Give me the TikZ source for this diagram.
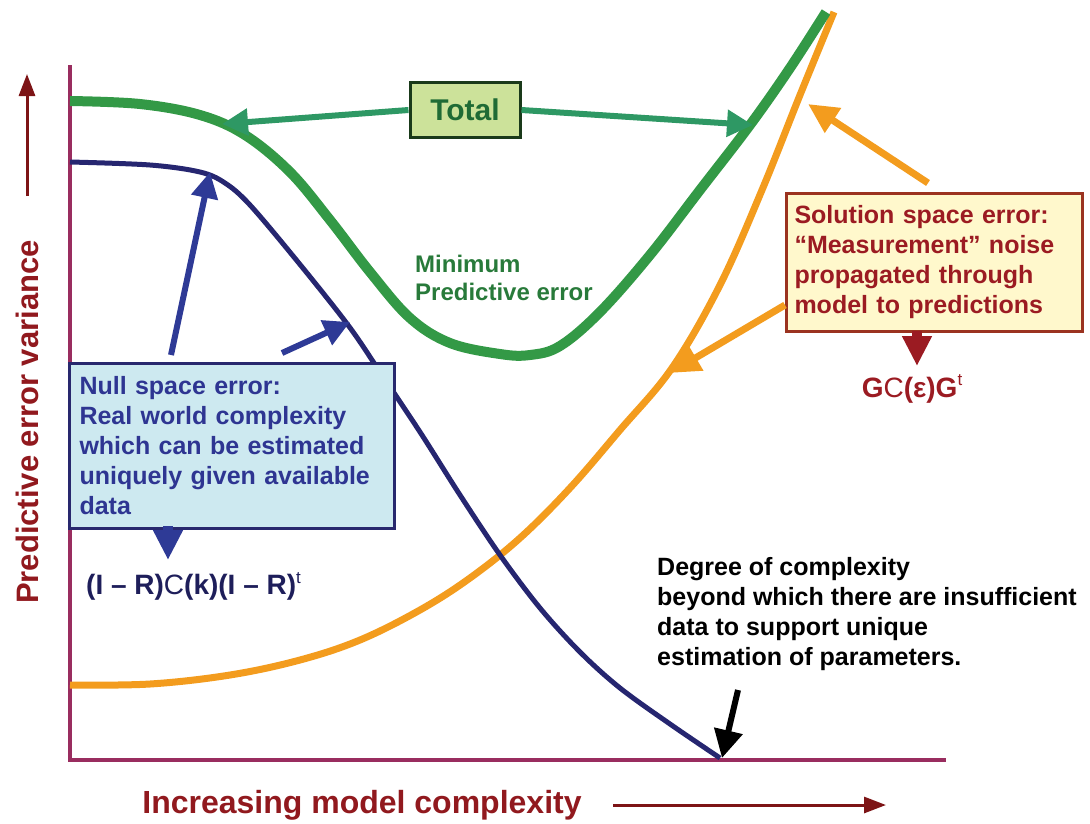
\documentclass[tikz,border=0pt]{standalone}
\usepackage{fontspec}
\setmainfont{Liberation Sans}
\usetikzlibrary{arrows.meta}
\definecolor{axisc}{RGB}{153,45,95}
\definecolor{labc}{RGB}{145,25,30}
\definecolor{labarr}{RGB}{125,20,22}
\definecolor{greenc}{RGB}{51,153,70}
\definecolor{greenarr}{RGB}{46,152,100}
\definecolor{totfill}{RGB}{204,226,154}
\definecolor{totdraw}{RGB}{26,58,26}
\definecolor{tottext}{RGB}{31,107,53}
\definecolor{mintext}{RGB}{40,122,58}
\definecolor{navyc}{RGB}{38,38,112}
\definecolor{bluearr}{RGB}{46,58,150}
\definecolor{bluefill}{RGB}{205,233,240}
\definecolor{bluedraw}{RGB}{40,40,110}
\definecolor{bluetext}{RGB}{46,53,146}
\definecolor{formblue}{RGB}{30,30,90}
\definecolor{orangec}{RGB}{243,156,30}
\definecolor{solfill}{RGB}{255,248,204}
\definecolor{soldraw}{RGB}{155,51,32}
\definecolor{soltext}{RGB}{155,27,34}
\tikzset{
  boxtext/.style={font=\fontsize{25}{30}\selectfont\bfseries, align=left},
  garrow/.style={draw=greenarr, line width=6pt, -{Triangle[length=26pt,width=26pt]}},
  oarrow/.style={draw=orangec, line width=7pt, -{Triangle[length=30pt,width=28pt]}},
  barrow/.style={draw=bluearr, line width=6pt, -{Triangle[length=26pt,width=26pt]}},
  darrow/.style={line width=10pt, -{Triangle[length=30pt,width=28pt]}},
  labarrow/.style={draw=labarr, line width=3pt, -{Triangle[length=22pt,width=16pt]}},
}
\begin{document}
\begin{tikzpicture}[x=1pt,y=-1pt]
\useasboundingbox (0,0) rectangle (1090,823);
% axes
\coordinate (o) at (70,760);
\coordinate (ytop) at (70,65);
\coordinate (xend) at (946,760);
\draw[axisc, line width=4pt] (ytop) -- (o) -- (xend);
% curves
\draw[orangec, line width=7pt] plot[smooth, tension=0.6] coordinates {
 (70,685) (150,684) (230,675) (300,660) (360,640) (420,610) (470,578) (520,538)
 (570,488) (620,430) (672,368) (720,285) (762,190) (800,95) (834,12)};
\draw[navyc, line width=5pt] plot[smooth, tension=0.55] coordinates {
 (70,162) (150,165) (200,172) (225,183) (250,205) (298,262) (348,325) (380,372)
 (420,432) (460,495) (500,555) (540,608) (580,652) (620,688) (670,724) (720,758)};
\draw[greenc, line width=10pt] plot[smooth, tension=0.6] coordinates {
 (70,101) (140,104) (200,115) (245,135) (290,172) (330,220) (370,272) (410,318)
 (450,343) (500,354) (530,355) (560,346) (600,312) (650,255) (700,190) (750,125)
 (790,68) (826,12)};
% Total
\node[draw=totdraw, line width=3pt, fill=totfill, minimum width=110pt, minimum height=55pt,
      font=\fontsize{30}{36}\selectfont\bfseries, text=tottext] (total) at (465,110) {Total};
\coordinate (gl) at (222,124);
\coordinate (gr) at (753,125);
\draw[garrow] (total.west) -- (gl);
\draw[garrow] (total.east) -- (gr);
% minimum
\node[anchor=north west, inner sep=0pt, text=mintext, align=left,
      font=\fontsize{24}{28}\selectfont\bfseries] (minerr) at (415,255) {Minimum\\Predictive error};
% Null space box
\node[draw=bluedraw, line width=3pt, fill=bluefill, anchor=north west, minimum width=324pt,
      minimum height=165pt, text width=305pt, inner xsep=10pt, boxtext, text=bluetext] (null) at (68,362)
 {Null space error:\\Real world complexity\\which can be estimated\\uniquely given available\\data};
\coordinate (b1s) at (171,355);
\coordinate (b1e) at (210,172);
\coordinate (b2s) at (282,353);
\coordinate (b2e) at (350,322);
\draw[barrow] (b1s) -- (b1e);
\draw[barrow] (b2s) -- (b2e);
\node[text=formblue, font=\fontsize{28}{32}\selectfont, anchor=west, inner sep=0pt] (irc) at (86,586)
 {\textbf{(I – R)}C\textbf{(k)(I – R)}\raisebox{0.4em}{\fontsize{17}{20}\selectfont t}};
\coordinate (bd1) at (168,526);
\coordinate (bd2) at (168,560);
\draw[darrow, draw=bluearr] (bd1) -- (bd2);
% Solution box
\node[draw=soldraw, line width=3pt, fill=solfill, anchor=north west, minimum width=295pt,
      minimum height=138pt, text width=280pt, inner xsep=8pt, boxtext, text=soltext] (sol) at (785,192)
 {Solution space error:\\“Measurement” noise\\propagated through\\model to predictions};
\coordinate (o1s) at (928,183);
\coordinate (o1e) at (808,104);
\coordinate (o2s) at (785,305);
\coordinate (o2e) at (670,373);
\draw[oarrow] (o1s) -- (o1e);
\draw[oarrow] (o2s) -- (o2e);
\node[text=soltext, font=\fontsize{28}{32}\selectfont, inner sep=0pt] (gce) at (912,389)
 {\textbf{G}C\textbf{(ε)G}\raisebox{0.4em}{\fontsize{17}{20}\selectfont t}};
\coordinate (sd1) at (917,331);
\coordinate (sd2) at (917,366);
\draw[darrow, draw=soltext] (sd1) -- (sd2);
% Degree text
\node[anchor=north west, inner sep=0pt, boxtext, text=black] (deg) at (657,557)
 {Degree of complexity\\beyond which there are insufficient\\data to support unique\\estimation of parameters.};
\coordinate (k1) at (738,690);
\coordinate (k2) at (722,758);
\draw[line width=6pt, -{Triangle[length=28pt,width=28pt]}] (k1) -- (k2);
% axis labels
\node[rotate=90, text=labc, font=\fontsize{31}{36}\selectfont\bfseries] (ylab) at (27,422) {Predictive error variance};
\coordinate (ya1) at (27,196);
\coordinate (ya2) at (27,74);
\draw[labarrow] (ya1) -- (ya2);
\node[text=labc, font=\fontsize{32}{36}\selectfont\bfseries] (xlab) at (362,805) {Increasing model complexity};
\coordinate (xa1) at (613,805);
\coordinate (xa2) at (886,805);
\draw[labarrow] (xa1) -- (xa2);
\end{tikzpicture}
\end{document}
